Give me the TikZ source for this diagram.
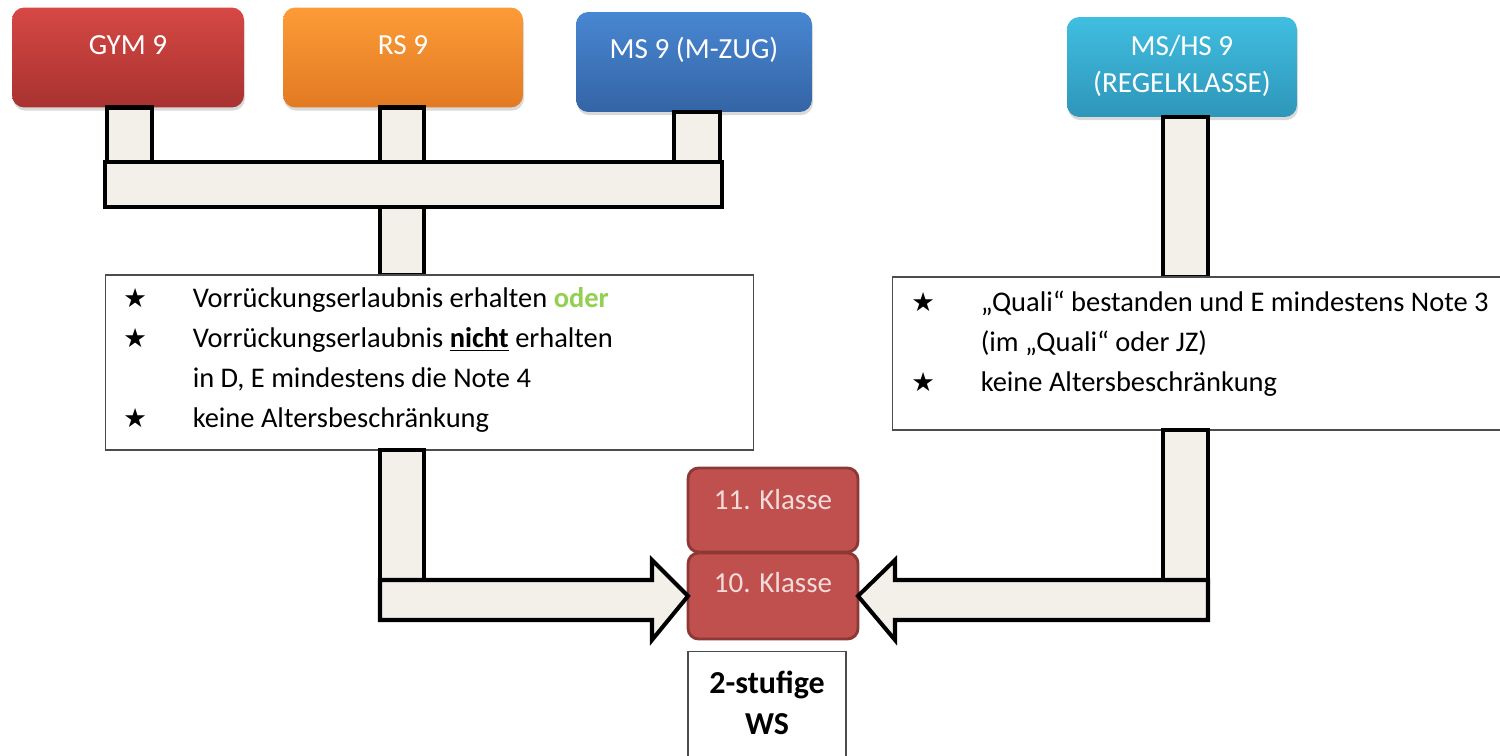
\documentclass[tikz,border=0pt]{standalone}
\usepackage{fontspec}
\setmainfont{Carlito}
\newfontfamily\sternfont{DejaVu Sans}
\usetikzlibrary{shadows}
\definecolor{gymoben}{RGB}{214,72,68}
\definecolor{gymunten}{RGB}{168,50,48}
\definecolor{rsoben}{RGB}{252,155,55}
\definecolor{rsunten}{RGB}{226,122,34}
\definecolor{msoben}{RGB}{72,135,210}
\definecolor{msunten}{RGB}{52,100,165}
\definecolor{hsoben}{RGB}{64,190,224}
\definecolor{hsunten}{RGB}{46,150,185}
\definecolor{klassefill}{RGB}{192,80,77}
\definecolor{klasserand}{RGB}{140,56,54}
\definecolor{klasseschrift}{RGB}{242,220,219}
\definecolor{balkenfill}{RGB}{243,240,234}
\definecolor{odergruen}{RGB}{146,208,80}
\def\stern{\makebox[39.5pt][l]{\sternfont\fontsize{15}{15}\selectfont ★}}
\tikzset{
  kopf/.style={rounded corners=7pt, minimum height=2cm, inner sep=0pt, outer sep=0pt,
    drop shadow={shadow xshift=0.6pt, shadow yshift=-1.8pt, opacity=0.3}},
  kopftext/.style={text=white, font=\fontsize{16.6}{21.5}\selectfont, align=center},
  balken/.style={draw=black, fill=balkenfill, line width=2.3pt},
  kasten/.style={draw=black!70, line width=0.6pt, fill=white, inner sep=0pt, outer sep=0pt},
  klasse/.style={draw=klasserand, fill=klassefill, line width=1.6pt, rounded corners=6pt,
    minimum width=3.4cm, inner sep=0pt, outer sep=0pt},
  klassetext/.style={text=klasseschrift, font=\fontsize{16.5}{19}\selectfont},
  liste/.style={font=\fontsize{16.2}{22.7}\selectfont, inner sep=0pt, anchor=base west}
}

\begin{document}
\begin{tikzpicture}[x=0.02cm, y=-0.02cm]
		\useasboundingbox (0,0) rectangle (1500,756);
		\clip (0,0) rectangle (1500,756);
		%%%%% KOPF %%%%%
		
		\node[kopf, minimum width=4.64cm, top color=gymoben, bottom color=gymunten] (gym) at (128, 57.5) {};
		\node[kopftext] (gymtext) at (128, 45) {GYM 9};
		
		\node[kopf, minimum width=4.8cm, top color=rsoben, bottom color=rsunten] (rs) at (403, 57.5) {};
		\node[kopftext] (rstext) at (403, 45) {RS 9};
		
		\node[kopf, minimum width=4.72cm, top color=msoben, bottom color=msunten] (ms) at (694, 62) {};
		\node[kopftext] (mstext) at (694, 50) {MS 9 (M-ZUG)};
		
		\node[kopf, minimum width=4.6cm, top color=hsoben, bottom color=hsunten] (mshs) at (1182, 67) {};
		\node[kopftext] (mshstext) at (1182, 66) {MS/HS 9\\(REGELKLASSE)};
		
		%%%%% BALKEN OBEN %%%%%
		
		\draw[balken] (107,0 |- gym.south) rectangle (152, 162);
		\draw[balken] (380,0 |- rs.south) rectangle (424, 162);
		\draw[balken] (674,0 |- ms.south) rectangle (720, 162);
		\draw[balken] (105, 162) rectangle (722, 207);
		\draw[balken] (380, 207) rectangle (424, 275);
		\draw[balken] (1163,0 |- mshs.south) rectangle (1208, 277);
		
		%%%%% BEDINGUNGEN %%%%%
		
		\node[kasten, minimum width=12.98cm, minimum height=3.5cm] (bedlinks) at (429.5, 362.5) {};
		\node[liste] (bedlinkstext) at (123, 308) {\begin{tabular}[t]{@{}l@{}}
			\stern Vorrückungserlaubnis erhalten \textcolor{odergruen}{\textbf{oder}}\\
			\stern Vorrückungserlaubnis \underline{\textbf{nicht}} erhalten\\
			\hspace*{39.5pt}in D, E mindestens die Note 4\\
			\stern keine Altersbeschränkung
		\end{tabular}};
		
		\node[kasten, minimum width=12.36cm, minimum height=3.06cm] (bedrechts) at (1201, 353.5) {};
		\node[liste] (bedrechtstext) at (911, 312) {\begin{tabular}[t]{@{}l@{}}
			\stern „Quali“ bestanden und E mindestens Note 3\\
			\hspace*{39.5pt}(im „Quali“ oder JZ)\\
			\stern keine Altersbeschränkung
		\end{tabular}};
		
		%%%%% WS %%%%%
		
		\node[klasse, minimum height=1.68cm] (k11) at (773, 510) {};
		\node[klassetext] (k11text) at (773, 500) {11. Klasse};
		\node[klasse, minimum height=1.72cm] (k10) at (773, 596) {};
		\node[klassetext] (k10text) at (773, 583) {10. Klasse};
		
		\node[kasten, minimum width=3.16cm, minimum height=2.46cm] (ws) at (767, 713) {};
		\node[font=\fontsize{18.2}{23.5}\selectfont\bfseries, align=center] (wstext) at (767, 703) {2-stufige\\WS};
		
		%%%%% PFEILE %%%%%
		
		\draw[balken] (380,0 |- bedlinks.south) rectangle (424, 580);
		\draw[balken] (380, 580) -- (652, 580) -- (652, 560) -- (k10.west) -- (652, 640) -- (652, 620) -- (380, 620) -- cycle;
		
		\draw[balken] (1163,0 |- bedrechts.south) rectangle (1208, 580);
		\draw[balken] (1208, 580) -- (895, 580) -- (895, 560) -- (k10.east) -- (895, 640) -- (895, 620) -- (1208, 620) -- cycle;
		
		%%%%% ENDE %%%%%
\end{tikzpicture}
\end{document}
